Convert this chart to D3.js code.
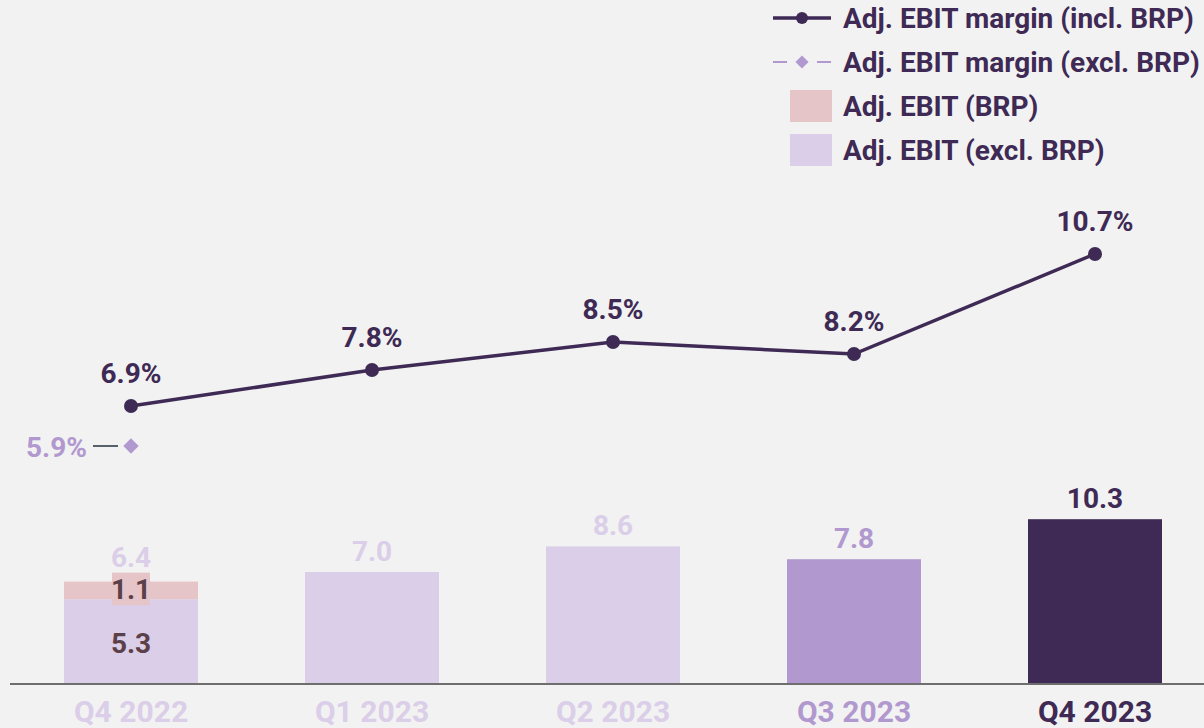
<!DOCTYPE html>
<html><head><meta charset="utf-8">
<script src="https://cdn.jsdelivr.net/npm/d3@7"></script>
<style>
html,body{margin:0;padding:0;background:#f2f2f2;}
svg{display:block;font-family:Roboto,"Open Sans",sans-serif;font-weight:700;}
</style></head>
<body><svg id="c" width="1204" height="728"></svg>
<script>
const categories = ["Q4 2022","Q1 2023","Q2 2023","Q3 2023","Q4 2023"];
const ebitExclBRP = [5.3, 7.0, 8.6, 7.8, 10.3];
const ebitBRP = [1.1, 0, 0, 0, 0];
const ebitTotal = [6.4, 7.0, 8.6, 7.8, 10.3];
const marginIncl = [6.9, 7.8, 8.5, 8.2, 10.7];
const marginExcl = [5.9, null, null, null, null];
const legendLabels = ["Adj. EBIT margin (incl. BRP)","Adj. EBIT margin (excl. BRP)","Adj. EBIT (BRP)","Adj. EBIT (excl. BRP)"];

const DARK="#3e2a54", LAV="#dacee8", MID="#b199cf", PINK="#e6c5c9", BROWN="#5b4049";
const barColors=[LAV,LAV,LAV,MID,DARK];
const labelColors=[LAV,LAV,LAV,MID,DARK];

const svg=d3.select("#c");
const x=d3.scaleBand().domain(categories).range([10.5,1215.5]).paddingInner(0.444).paddingOuter(0.222);
const y=d3.scaleLinear().domain([0,10]).range([684,524]);
const y2=d3.scaleLinear().domain([0,10]).range([682,282]);
const cx=c=>x(c)+x.bandwidth()/2;

// bars: excl BRP
svg.append("g").selectAll("rect").data(categories).join("rect")
  .attr("x",c=>x(c)).attr("width",x.bandwidth())
  .attr("y",(c,i)=>y(ebitExclBRP[i])).attr("height",(c,i)=>y(0)-y(ebitExclBRP[i]))
  .attr("fill",(c,i)=>barColors[i]);
// BRP segment
svg.append("g").selectAll("rect").data(categories.filter((c,i)=>ebitBRP[i]>0)).join("rect")
  .attr("x",c=>x(c)).attr("width",x.bandwidth())
  .attr("y",c=>{const i=categories.indexOf(c);return y(ebitExclBRP[i]+ebitBRP[i]);})
  .attr("height",c=>{const i=categories.indexOf(c);return y(ebitExclBRP[i])-y(ebitExclBRP[i]+ebitBRP[i]);})
  .attr("fill",PINK);

// axis
const ax=svg.append("g").attr("transform","translate(0,684)").call(d3.axisBottom(x).tickSize(0));
ax.select(".domain").attr("stroke","#6e6e6e").attr("stroke-width",2).attr("d","M10,0H1204");
ax.selectAll(".tick text").attr("y",38).attr("dy",0)
  .attr("font-family","Roboto,sans-serif").attr("font-weight",700).attr("font-size",30)
  .attr("fill",(c,i)=>labelColors[i]);

// bar value labels
svg.append("g").selectAll("text").data(categories).join("text")
  .attr("x",cx).attr("text-anchor","middle").attr("font-size",28)
  .attr("y",(c,i)=> ebitBRP[i]>0 ? y(ebitTotal[i])-15 : y(ebitTotal[i])-11)
  .attr("fill",(c,i)=>labelColors[i]).text((c,i)=>ebitTotal[i].toFixed(1));

// BRP and excl labels inside Q4 2022 bar
categories.forEach((c,i)=>{
  if(ebitBRP[i]>0){
    const top=y(ebitExclBRP[i]+ebitBRP[i]), bot=y(ebitExclBRP[i]);
    svg.append("rect").attr("x",cx(c)-19).attr("width",38).attr("y",top-9).attr("height",(bot-top)+15).attr("fill",PINK);
    svg.append("text").attr("x",cx(c)).attr("y",bot).attr("text-anchor","middle").attr("font-size",28)
      .attr("fill",BROWN).text(ebitBRP[i].toFixed(1));
    svg.append("text").attr("x",cx(c)).attr("y",(bot+y(0))/2+11).attr("text-anchor","middle").attr("font-size",28)
      .attr("fill",BROWN).text(ebitExclBRP[i].toFixed(1));
  }
});

// margin line
const line=d3.line().x((d,i)=>cx(categories[i])).y(d=>y2(d));
svg.append("path").datum(marginIncl).attr("d",line).attr("fill","none").attr("stroke",DARK).attr("stroke-width",3.5);
svg.append("g").selectAll("circle").data(marginIncl).join("circle")
  .attr("cx",(d,i)=>cx(categories[i])).attr("cy",d=>y2(d)).attr("r",7).attr("fill",DARK);
svg.append("g").selectAll("text").data(marginIncl).join("text")
  .attr("x",(d,i)=>cx(categories[i])).attr("y",d=>y2(d)-23).attr("text-anchor","middle")
  .attr("font-size",28).attr("fill",DARK).text(d=>d.toFixed(1)+"%");

// excl margin diamond
marginExcl.forEach((d,i)=>{
  if(d==null) return;
  const px=cx(categories[i]), py=y2(d);
  svg.append("path").attr("d",d3.symbol(d3.symbolDiamond2,150)()).attr("transform",`translate(${px},${py})`).attr("fill",MID);
  svg.append("line").attr("x1",px-38).attr("x2",px-13).attr("y1",py).attr("y2",py).attr("stroke","#23303c").attr("stroke-width",1.5);
  svg.append("text").attr("x",px-44).attr("y",py+11).attr("text-anchor","end").attr("font-size",28)
    .attr("fill",MID).text(d.toFixed(1)+"%");
});

// legend
const lg=svg.append("g");
const rowsY=[18,62,106,150];
legendLabels.forEach((t,i)=>{
  lg.append("text").attr("x",843).attr("y",rowsY[i]+10).attr("font-size",28).attr("fill",DARK).text(t);
});
lg.append("line").attr("x1",773).attr("x2",831).attr("y1",rowsY[0]).attr("y2",rowsY[0]).attr("stroke",DARK).attr("stroke-width",3.5);
lg.append("circle").attr("cx",802).attr("cy",rowsY[0]).attr("r",6).attr("fill",DARK);
lg.append("line").attr("x1",773).attr("x2",787).attr("y1",rowsY[1]).attr("y2",rowsY[1]).attr("stroke",MID).attr("stroke-width",2);
lg.append("line").attr("x1",817).attr("x2",831).attr("y1",rowsY[1]).attr("y2",rowsY[1]).attr("stroke",MID).attr("stroke-width",2);
lg.append("path").attr("d",d3.symbol(d3.symbolDiamond2,110)()).attr("transform",`translate(802,${rowsY[1]})`).attr("fill",MID);
lg.append("rect").attr("x",790).attr("y",90).attr("width",42).attr("height",32).attr("fill",PINK);
lg.append("rect").attr("x",790).attr("y",134).attr("width",42).attr("height",32).attr("fill",LAV);
</script></body></html>
